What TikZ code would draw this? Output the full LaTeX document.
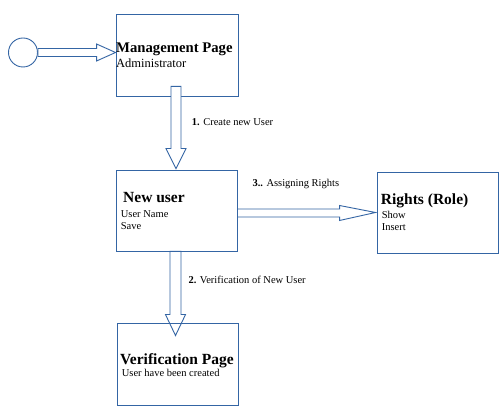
\documentclass[tikz,border=0pt]{standalone}
\usepackage{fontspec}
\setmainfont{Liberation Serif}
\usetikzlibrary{calc}
\definecolor{lineblue}{HTML}{3465A4}
\tikzset{
 box/.style={draw=lineblue, line width=0.9pt, inner sep=0pt, minimum width=121pt, minimum height=81pt},
 fat/.style={draw=lineblue, line width=0.9pt, fill=white, line join=miter},
 txt/.style={anchor=base west, inner sep=0pt, text=black},
 ttl/.style={txt, font=\bfseries\fontsize{15.5}{18}\selectfont},
 sub/.style={txt, font=\fontsize{10.5}{12}\selectfont},
}
\begin{document}
\begin{tikzpicture}[x=1pt,y=1pt]
\useasboundingbox[fill=white] (0,0) rectangle (503,415);
% boxes
\node[box, fill=white, minimum width=122pt, minimum height=82pt] (mgmt) at (177,360) {};
\node[draw=lineblue, line width=0.9pt, circle, minimum size=29pt, inner sep=0pt, fill=white] (start) at (23,362.5) {};
\node[box, minimum width=121pt, minimum height=81pt] (newuser) at (176.5,204.5) {};
\node[box, minimum width=121pt, minimum height=82pt] (verif) at (177.5,51) {};
\node[box, minimum width=121pt, minimum height=81pt] (rights) at (437.5,202.5) {};
% fat arrows
\draw[fat] let \p1=(start.east), \p2=(mgmt.west) in
  (\x1,\y1+4pt) -- (\x2-19pt,\y1+4pt) -- (\x2-19pt,\y1+8.5pt) -- (\x2,\y1) --
  (\x2-19pt,\y1-8.5pt) -- (\x2-19pt,\y1-4pt) -- (\x1,\y1-4pt) -- cycle;
\draw[fat] let \p1=($(mgmt.south)+(-1,0)$), \p2=(newuser.north) in
  (\x1-5pt,\y1+10pt) -- (\x1+5pt,\y1+10pt) -- (\x1+5pt,\y2+21pt) -- (\x1+10pt,\y2+21pt) --
  (\x1,\y2+1pt) -- (\x1-10pt,\y2+21pt) -- (\x1-5pt,\y2+21pt) -- cycle;
\draw[fat] let \p1=($(newuser.south)+(-1,0)$), \p2=(verif.north) in
  (\x1-5.5pt,\y1) -- (\x1+5.5pt,\y1) -- (\x1+5.5pt,\y2+8pt) -- (\x1+10pt,\y2+8pt) --
  (\x1,\y2-13pt) -- (\x1-10pt,\y2+8pt) -- (\x1-5.5pt,\y2+8pt) -- cycle;
\draw[fat] let \p1=($(newuser.east)+(0,-2.5)$), \p2=(rights.west) in
  (\x1,\y1+4pt) -- (\x2-37pt,\y1+4pt) -- (\x2-37pt,\y1+7.5pt) -- (\x2-1pt,\y1+0.5pt) --
  (\x2-37pt,\y1-7.5pt) -- (\x2-37pt,\y1-4pt) -- (\x1,\y1-4pt) -- cycle;
% redraw borders over arrow tips
\node[box, minimum width=121pt, minimum height=81pt] at (newuser) {};
\node[box, minimum width=121pt, minimum height=82pt] at (verif) {};
\node[box, minimum width=121pt, minimum height=81pt] at (rights) {};
% texts
\node[ttl, font=\bfseries\fontsize{14.7}{17}\selectfont] (t1) at (116,362) {Management Page};
\node[txt, font=\fontsize{12.5}{14}\selectfont] (t1a) at (116,347.3) {Administrator};
\node[ttl] (t2) at (123,212) {New user};
\node[sub] (t2a) at (120.7,197.3) {User Name};
\node[sub] (t2b) at (120.7,185.7) {Save};
\node[ttl] (t3) at (380.7,210) {Rights (Role)};
\node[sub] (t3a) at (381.7,196.7) {Show};
\node[sub] (t3b) at (381.7,184.3) {Insert};
\node[ttl] (t4) at (120,51) {Verification Page};
\node[sub] (t4a) at (121.7,38.3) {User have been created};
\node[sub] (l1) at (191.7,289.7) {\textbf{1.} Create new User};
\node[sub] (l3) at (252.3,228.3) {\textbf{3..} Assigning Rights};
\node[sub] (l2) at (188.3,131) {\textbf{2.} Verification of New User};
\end{tikzpicture}
\end{document}
